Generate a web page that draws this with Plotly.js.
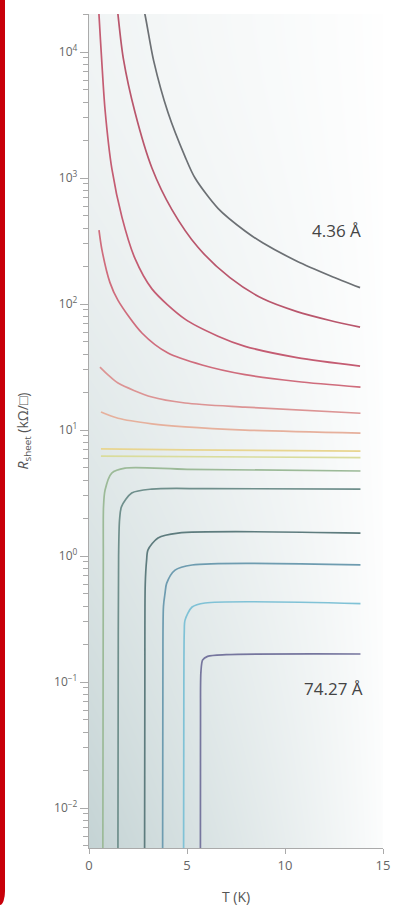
<!DOCTYPE html>
<html>
<head>
<meta charset="utf-8">
<script src="https://cdn.plot.ly/plotly-3.0.1.min.js"></script>
<style>
  html, body { margin: 0; padding: 0; background: #ffffff; }
  #wrap { position: relative; width: 397px; height: 911px; overflow: hidden; }
  #chart { position: absolute; left: 0; top: 0; width: 397px; height: 911px; }
  #frame { position: absolute; left: 0; top: 0; width: 5px; height: 905px; background: #c8000a;
           border-bottom-right-radius: 5px 14px; }
</style>
</head>
<body>
<div id="wrap">
  <div id="chart"></div>
  <div id="frame"></div>
</div>
<script>
// ---- data (T in K, R_sheet in kΩ/□) ----
const t1 = [2.62, 2.86, 3.30, 4.03, 4.90, 5.41, 6.58, 7.96, 8.88, 10.61, 12.30, 13.83];
const r1 = [28200, 19700, 8510, 3310, 1480, 1000, 575, 380, 305, 219, 168, 135];

const t2 = [1.38, 1.48, 1.75, 2.35, 3.21, 4.23, 5.56, 7.19, 8.88, 10.61, 12.30, 13.83];
const r2 = [28200, 19700, 8910, 3310, 1202, 562, 282, 162, 110, 87.1, 74.1, 65.6];

const t3 = [0.46, 0.51, 0.65, 0.82, 1.17, 1.68, 2.35, 3.21, 4.90, 6.58, 7.96, 10.61, 13.83];
const r3 = [28200, 19700, 8510, 3470, 1175, 490, 229, 132, 75.9, 55.6, 46.2, 37.6, 32.2];

const t4 = [0.51, 0.66, 1.07, 1.48, 2.70, 4.03, 5.77, 7.96, 10.61, 13.85];
const r4 = [386, 269, 148, 107, 58.9, 40.8, 32.8, 27.5, 24.3, 21.9];

const t5 = [0.56, 0.97, 1.48, 3.21, 4.90, 7.96, 13.85];
const r5 = [31.6, 27.4, 23.6, 18.3, 16.4, 15.2, 13.6];

const t6 = [0.61, 1.48, 3.21, 4.90, 7.96, 13.85];
const r6 = [13.9, 12.4, 11.2, 10.6, 10.0, 9.46];

const t7 = [0.61, 5.0, 13.85];
const r7 = [7.1, 6.95, 6.8];

const t8 = [0.61, 13.85];
const r8 = [6.2, 6.05];

const t9 = [0.70, 0.72, 0.73, 0.74, 0.82, 1.16, 1.84, 5.0, 13.85];
const r9 = [0.001, 0.1, 1.0, 2.45, 3.34, 4.56, 4.99, 4.88, 4.73];

const t10 = [1.47, 1.49, 1.51, 1.56, 1.66, 2.18, 3.2, 6.0, 13.85];
const r10 = [0.001, 0.1, 1.0, 1.95, 2.47, 3.16, 3.40, 3.43, 3.40];

const t11 = [2.83, 2.85, 2.87, 2.94, 3.01, 3.52, 4.54, 13.85];
const r11 = [0.001, 0.1, 0.6, 0.93, 1.12, 1.39, 1.52, 1.52];

const t12 = [3.75, 3.77, 3.80, 3.88, 3.96, 4.39, 5.26, 13.85];
const r12 = [0.001, 0.1, 0.4, 0.508, 0.607, 0.774, 0.849, 0.85];

const t13 = [4.82, 4.84, 4.86, 4.90, 5.26, 5.92, 13.85];
const r13 = [0.001, 0.1, 0.25, 0.31, 0.394, 0.424, 0.42];

const t14 = [5.68, 5.69, 5.71, 5.80, 6.05, 7.0, 13.85];
const r14 = [0.001, 0.05, 0.12, 0.15, 0.16, 0.165, 0.167];

const xTickVals = [0, 5, 10, 15];
const xTickText = ['0', '5', '10', '15'];
const yTickVals = [0.01, 0.1, 1, 10, 100, 1000, 10000];
const yTickText = ['10<sup>−2</sup>', '10<sup>−1</sup>', '10<sup>0</sup>', '10<sup>1</sup>',
                   '10<sup>2</sup>', '10<sup>3</sup>', '10<sup>4</sup>'];

const labelText = ['4.36 Å', '74.27 Å'];
const labelT = [12.65, 12.45];
const labelR = [386, 0.0895];

// ---- styles ----
const seriesT = [t1, t2, t3, t4, t5, t6, t7, t8, t9, t10, t11, t12, t13, t14];
const seriesR = [r1, r2, r3, r4, r5, r6, r7, r8, r9, r10, r11, r12, r13, r14];
const colors = ['#6c7074', '#b9566c', '#c45c72', '#cf6c7c', '#dc9494', '#e6b09c',
                '#e8d590', '#d9dc9c', '#9cba98', '#6f8f8c', '#5e7c7e', '#6e9cb0',
                '#80c2d6', '#76769e'];

// background gradient for plot area
function makeBg() {
  const W = 294, H = 834;
  const c = document.createElement('canvas');
  c.width = W; c.height = H;
  const g = c.getContext('2d');
  const img = g.createImageData(W, H);
  const base = [196, 211, 212];
  for (let y = 0; y < H; y++) {
    const v = y / H;
    const gv = 0.25 + 0.75 * Math.pow(v, 1.5);
    for (let x = 0; x < W; x++) {
      const u = x / W;
      const a = (0.05 + 0.95 * Math.pow(1 - u, 0.9)) * gv;
      const i = (y * W + x) * 4;
      img.data[i]     = Math.round(255 - a * (255 - base[0]));
      img.data[i + 1] = Math.round(255 - a * (255 - base[1]));
      img.data[i + 2] = Math.round(255 - a * (255 - base[2]));
      img.data[i + 3] = 255;
    }
  }
  g.putImageData(img, 0, 0);
  return c.toDataURL('image/png');
}

const traces = seriesT.map((t, i) => ({
  x: t, y: seriesR[i], type: 'scatter', mode: 'lines',
  line: { color: colors[i], width: 1.7, shape: 'spline', smoothing: 0.8 },
  hoverinfo: 'skip', showlegend: false
}));

const annotations = labelText.map((txt, i) => ({
  x: labelT[i], y: Math.log10(labelR[i]), xref: 'x', yref: 'y',
  text: txt, showarrow: false,
  font: { family: 'Open Sans, sans-serif', size: 17, color: '#444' }
}));

const layout = {
  width: 397, height: 911,
  margin: { l: 89, r: 14, t: 14, b: 63 },
  paper_bgcolor: 'rgba(0,0,0,0)',
  plot_bgcolor: 'rgba(0,0,0,0)',
  showlegend: false,
  font: { family: 'Open Sans, sans-serif', color: '#666' },
  xaxis: {
    range: [0, 15], tickvals: xTickVals, ticktext: xTickText,
    showgrid: false, zeroline: false, showline: true, linecolor: '#aaaaaa', linewidth: 1.2,
    ticks: 'outside', ticklen: 5, tickcolor: '#aaaaaa',
    tickfont: { size: 13, color: '#666' },
    title: { text: 'T (K)', font: { size: 14, color: '#555' }, standoff: 19 }
  },
  yaxis: {
    type: 'log', range: [-2.317, 4.302],
    tickvals: yTickVals, ticktext: yTickText,
    showgrid: false, zeroline: false, showline: true, linecolor: '#aaaaaa', linewidth: 1.2,
    ticks: 'outside', ticklen: 8, tickcolor: '#aaaaaa',
    minor: { ticks: 'outside', ticklen: 5, tickcolor: '#aaaaaa', dtick: 'D1', showgrid: false },
    tickfont: { size: 12, color: '#666' },
    title: { text: '<i>R</i><sub>sheet</sub> (kΩ/□)', font: { size: 14, color: '#555' }, standoff: 22 }
  },
  images: [{
    source: makeBg(), xref: 'paper', yref: 'paper', x: 0, y: 1, sizex: 1, sizey: 1,
    xanchor: 'left', yanchor: 'top', sizing: 'stretch', layer: 'below'
  }],
  annotations: annotations
};

Plotly.newPlot('chart', traces, layout, { displayModeBar: false, staticPlot: true });
</script>
</body>
</html>
